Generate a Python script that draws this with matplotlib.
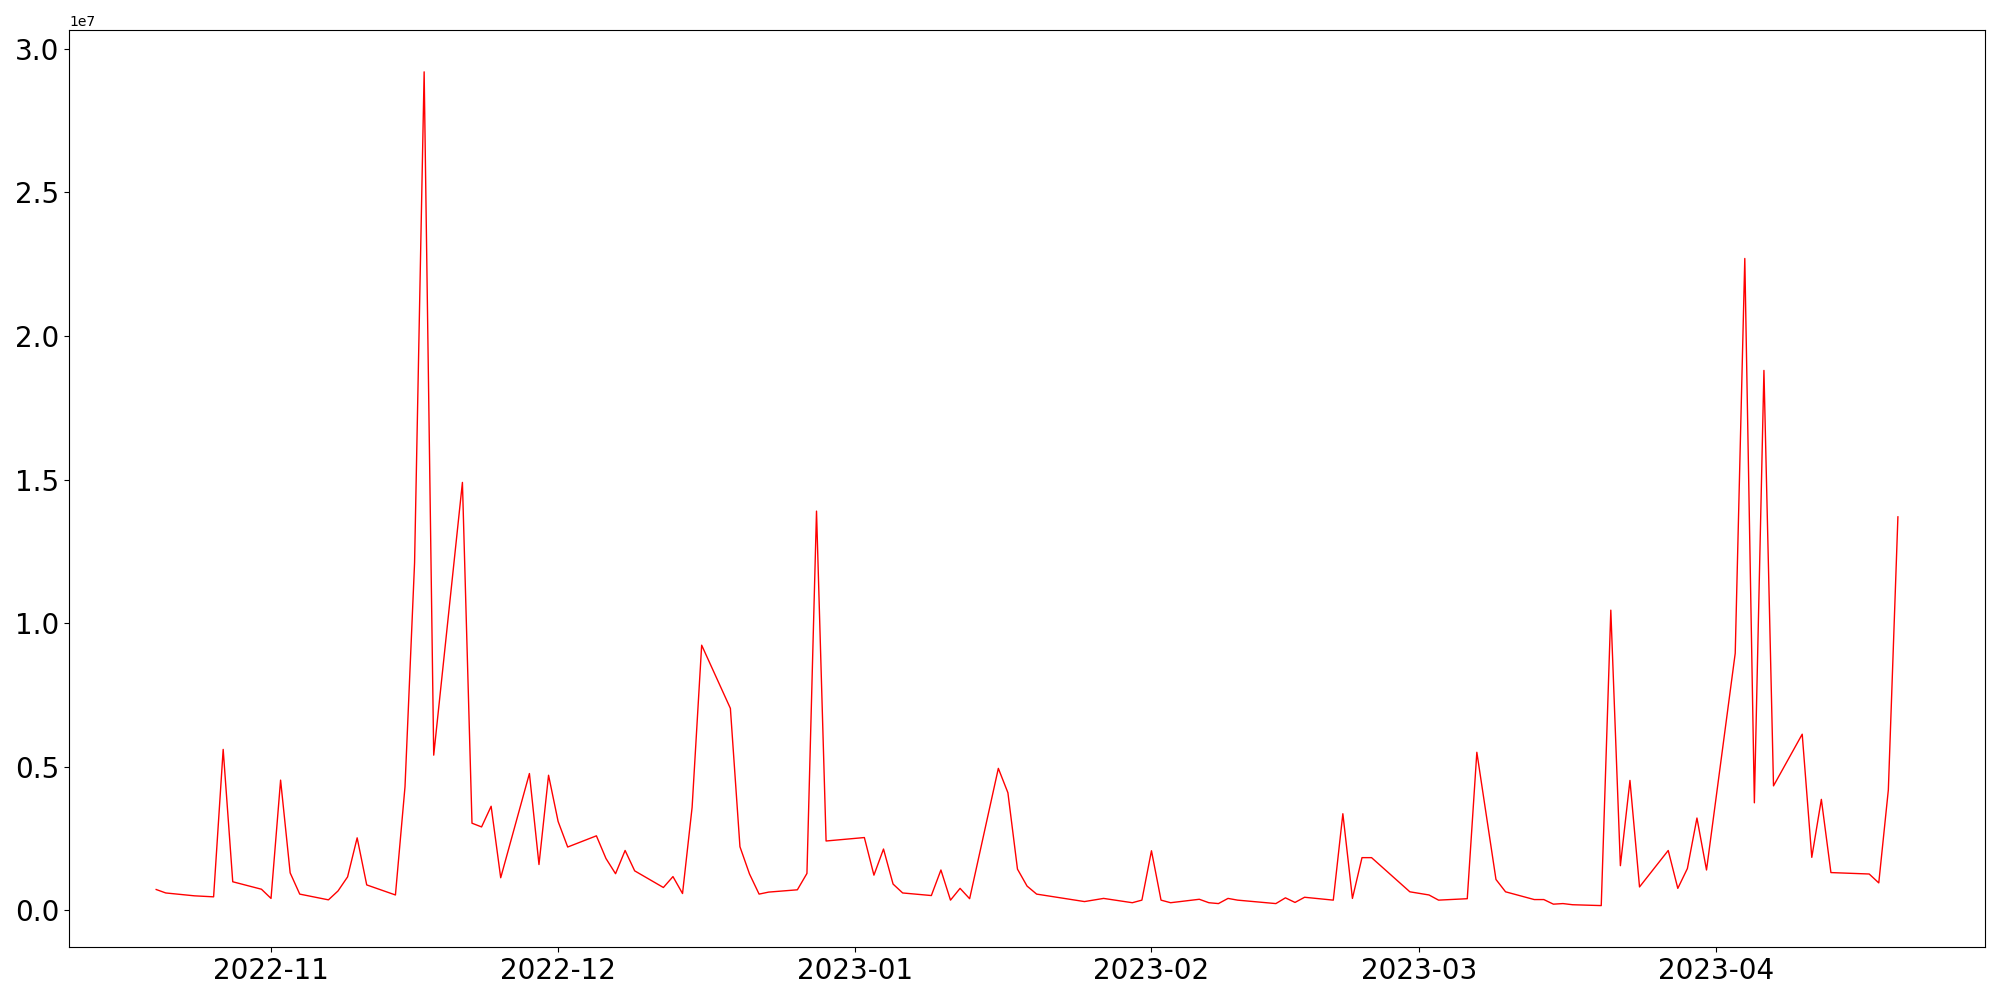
import pandas as pd
import matplotlib
matplotlib.use("Agg")
import matplotlib.pyplot as plt

# daily values (gaps = days with no data)
dates = [
    "2022-10-20", "2022-10-21", "2022-10-24", "2022-10-26", "2022-10-27", "2022-10-28",
    "2022-10-31", "2022-11-01", "2022-11-02", "2022-11-03", "2022-11-04",
    "2022-11-07", "2022-11-08", "2022-11-09", "2022-11-10", "2022-11-11",
    "2022-11-14", "2022-11-15", "2022-11-16", "2022-11-17", "2022-11-18",
    "2022-11-21", "2022-11-22", "2022-11-23", "2022-11-24", "2022-11-25",
    "2022-11-28", "2022-11-29", "2022-11-30", "2022-12-01", "2022-12-02",
    "2022-12-05", "2022-12-06", "2022-12-07", "2022-12-08", "2022-12-09",
    "2022-12-12", "2022-12-13", "2022-12-14", "2022-12-15", "2022-12-16",
    "2022-12-19", "2022-12-20", "2022-12-21", "2022-12-22", "2022-12-23",
    "2022-12-26", "2022-12-27", "2022-12-28", "2022-12-29",
    "2023-01-02", "2023-01-03", "2023-01-04", "2023-01-05", "2023-01-06",
    "2023-01-09", "2023-01-10", "2023-01-11", "2023-01-12", "2023-01-13",
    "2023-01-16", "2023-01-17", "2023-01-18", "2023-01-19", "2023-01-20",
    "2023-01-25", "2023-01-27",
    "2023-01-30", "2023-01-31", "2023-02-01", "2023-02-02", "2023-02-03",
    "2023-02-06", "2023-02-07", "2023-02-08", "2023-02-09", "2023-02-10",
    "2023-02-14", "2023-02-15", "2023-02-16", "2023-02-17",
    "2023-02-20", "2023-02-21", "2023-02-22", "2023-02-23", "2023-02-24",
    "2023-02-28", "2023-03-02", "2023-03-03",
    "2023-03-06", "2023-03-07", "2023-03-09", "2023-03-10",
    "2023-03-13", "2023-03-14", "2023-03-15", "2023-03-16", "2023-03-17",
    "2023-03-20", "2023-03-21", "2023-03-22", "2023-03-23", "2023-03-24",
    "2023-03-27", "2023-03-28", "2023-03-29", "2023-03-30", "2023-03-31",
    "2023-04-03", "2023-04-04", "2023-04-05", "2023-04-06", "2023-04-07",
    "2023-04-10", "2023-04-11", "2023-04-12", "2023-04-13",
    "2023-04-17", "2023-04-18", "2023-04-19", "2023-04-20",
]

volume = [
    0.72e6, 0.60e6, 0.50e6, 0.465e6, 5.60e6, 0.99e6,
    0.73e6, 0.41e6, 4.53e6, 1.30e6, 0.56e6,
    0.36e6, 0.67e6, 1.16e6, 2.52e6, 0.88e6,
    0.53e6, 4.30e6, 12.1e6, 29.2e6, 5.40e6,
    14.9e6, 3.03e6, 2.90e6, 3.62e6, 1.13e6,
    4.76e6, 1.59e6, 4.70e6, 3.09e6, 2.20e6,
    2.59e6, 1.80e6, 1.27e6, 2.08e6, 1.37e6,
    0.79e6, 1.17e6, 0.58e6, 3.58e6, 9.23e6,
    7.03e6, 2.21e6, 1.26e6, 0.56e6, 0.63e6,
    0.71e6, 1.28e6, 13.9e6, 2.41e6,
    2.53e6, 1.22e6, 2.13e6, 0.91e6, 0.60e6,
    0.51e6, 1.40e6, 0.35e6, 0.76e6, 0.40e6,
    4.94e6, 4.09e6, 1.43e6, 0.84e6, 0.56e6,
    0.30e6, 0.41e6,
    0.26e6, 0.35e6, 2.07e6, 0.35e6, 0.26e6,
    0.38e6, 0.26e6, 0.23e6, 0.41e6, 0.35e6,
    0.23e6, 0.43e6, 0.27e6, 0.45e6,
    0.35e6, 3.36e6, 0.41e6, 1.83e6, 1.83e6,
    0.64e6, 0.53e6, 0.35e6,
    0.40e6, 5.50e6, 1.07e6, 0.64e6,
    0.37e6, 0.37e6, 0.21e6, 0.23e6, 0.19e6,
    0.16e6, 10.45e6, 1.55e6, 4.52e6, 0.81e6,
    2.08e6, 0.76e6, 1.45e6, 3.21e6, 1.40e6,
    8.95e6, 22.7e6, 3.74e6, 18.8e6, 4.33e6,
    6.13e6, 1.84e6, 3.86e6, 1.31e6,
    1.26e6, 0.95e6, 4.19e6, 13.7e6,
]

x = pd.to_datetime(dates)

fig, ax = plt.subplots(figsize=(20, 10), dpi=100)
ax.plot(x, volume, color="red", linewidth=1)

plt.xticks(fontsize=20)
plt.yticks(fontsize=20)
plt.tight_layout()
plt.savefig("out.png")
